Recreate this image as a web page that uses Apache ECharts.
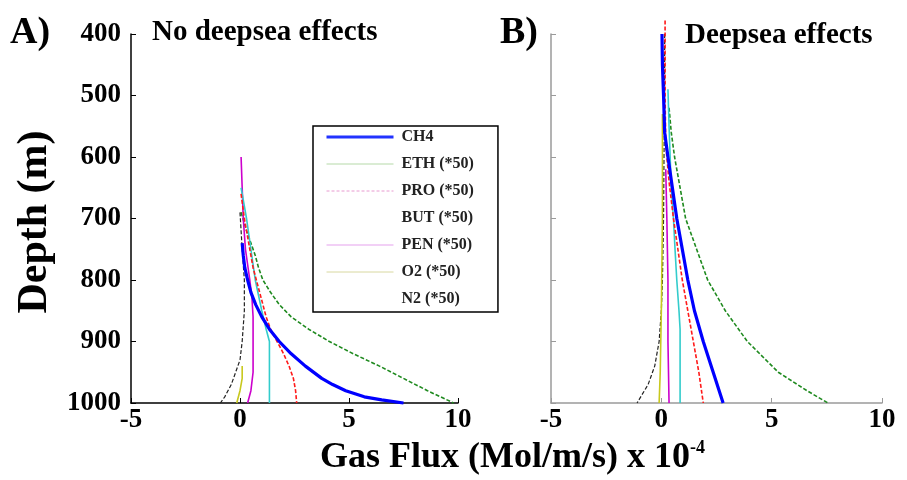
<!DOCTYPE html>
<html>
<head>
<meta charset="utf-8">
<script src="https://cdn.jsdelivr.net/npm/echarts@6/dist/echarts.min.js"></script>
<style>html,body{margin:0;padding:0;background:#fff}#c{width:907px;height:480px}</style>
</head>
<body>
<div id="c"></div>
<script>
// ---------- data ----------
const speciesNames = ['CH4', 'ETH (*50)', 'PRO (*50)', 'BUT (*50)', 'PEN (*50)', 'O2 (*50)', 'N2 (*50)'];
const xTickLabels = ['-5', '0', '5', '10'];
const depthTickLabels = ['400', '500', '600', '700', '800', '900', '1000'];

// Panel A: no deepsea effects (depth m, flux)
const aCH4Depth = [740, 760, 780, 800, 820, 840, 860, 880, 900, 920, 940, 960, 970, 980, 990, 995, 1000];
const aCH4Flux  = [0.1, 0.15, 0.22, 0.35, 0.5, 0.72, 1.0, 1.35, 1.8, 2.35, 3.0, 3.75, 4.25, 4.85, 5.7, 6.5, 7.5];
const aETHDepth = [690, 720, 740, 760, 780, 800, 820, 840, 860, 880, 900, 920, 940, 960, 980, 1000];
const aETHFlux  = [0.05, 0.3, 0.5, 0.7, 0.85, 1.05, 1.4, 1.8, 2.35, 3.15, 4.1, 5.2, 6.4, 7.5, 8.6, 9.8];
const aPRODepth = [660, 700, 740, 780, 820, 860, 880, 900, 920, 940, 960, 980, 1000];
const aPROFlux  = [0.05, 0.2, 0.4, 0.6, 0.9, 1.2, 1.4, 1.7, 2.0, 2.25, 2.45, 2.55, 2.6];
const aBUTDepth = [690, 750, 800, 850, 900, 930, 950, 970, 990, 1000];
const aBUTFlux  = [0.0, 0.1, 0.2, 0.2, 0.1, 0.0, -0.2, -0.4, -0.7, -0.9];
const aPENDepth = [600, 650, 700, 750, 800, 830, 860, 950, 980, 1000];
const aPENFlux  = [0.05, 0.1, 0.15, 0.25, 0.45, 0.55, 0.6, 0.6, 0.5, 0.35];
const aO2Depth  = [940, 960, 980, 1000];
const aO2Flux   = [0.1, 0.1, 0.0, -0.15];
const aN2Depth  = [650, 700, 750, 800, 850, 880, 900, 1000];
const aN2Flux   = [0.05, 0.3, 0.5, 0.7, 1.0, 1.2, 1.35, 1.35];

// Panel B: deepsea effects
const bCH4Depth = [400, 450, 500, 560, 600, 650, 700, 750, 800, 850, 900, 950, 1000];
const bCH4Flux  = [0.03, 0.05, 0.1, 0.15, 0.3, 0.5, 0.7, 0.95, 1.2, 1.5, 1.9, 2.35, 2.8];
const bETHDepth = [520, 560, 600, 650, 700, 750, 800, 850, 900, 950, 980, 1000];
const bETHFlux  = [0.35, 0.45, 0.6, 0.85, 1.1, 1.6, 2.1, 2.9, 3.9, 5.3, 6.6, 7.55];
const bPRODepth = [378, 500, 580, 640, 700, 750, 800, 850, 900, 950, 1000];
const bPROFlux  = [0.17, 0.17, 0.2, 0.35, 0.55, 0.75, 0.95, 1.2, 1.45, 1.7, 1.9];
const bBUTDepth = [400, 500, 600, 700, 800, 850, 900, 940, 970, 1000];
const bBUTFlux  = [0.15, 0.15, 0.12, 0.1, 0.05, 0.0, -0.1, -0.3, -0.6, -1.1];
const bPENDepth = [620, 700, 800, 900, 1000];
const bPENFlux  = [0.2, 0.25, 0.3, 0.3, 0.35];
const bO2Depth  = [530, 700, 850, 950, 1000];
const bO2Flux   = [0.05, 0.05, 0.0, -0.05, -0.1];
const bN2Depth  = [490, 550, 600, 650, 700, 750, 800, 850, 880, 1000];
const bN2Flux   = [0.3, 0.35, 0.4, 0.45, 0.55, 0.62, 0.7, 0.8, 0.85, 0.85];

// ---------- build ----------
const serif = 'Liberation Serif, Times New Roman, serif';
const styles = {
  'CH4':       { color: '#0000ff', width: 3.2, type: 'solid' },
  'ETH (*50)': { color: '#1f8a1f', width: 1.6, type: [4, 2] },
  'PRO (*50)': { color: '#ff1a1a', width: 1.6, type: [4, 2] },
  'BUT (*50)': { color: '#222222', width: 1.2, type: [4, 2] },
  'PEN (*50)': { color: '#cc00cc', width: 1.6, type: 'solid' },
  'O2 (*50)':  { color: '#c8c81e', width: 1.6, type: 'solid' },
  'N2 (*50)':  { color: '#33cccc', width: 1.6, type: 'solid' }
};
const panelA = [[aCH4Depth, aCH4Flux], [aETHDepth, aETHFlux], [aPRODepth, aPROFlux], [aBUTDepth, aBUTFlux],
                [aPENDepth, aPENFlux], [aO2Depth, aO2Flux], [aN2Depth, aN2Flux]];
const panelB = [[bCH4Depth, bCH4Flux], [bETHDepth, bETHFlux], [bPRODepth, bPROFlux], [bBUTDepth, bBUTFlux],
                [bPENDepth, bPENFlux], [bO2Depth, bO2Flux], [bN2Depth, bN2Flux]];

function pairs(d, f) { return d.map((v, i) => [f[i], v]); }
const drawOrder = [1, 3, 5, 4, 6, 2, 0];
const series = [];
[panelA, panelB].forEach((panel, p) => {
  drawOrder.forEach(i => {
    const name = speciesNames[i];
    series.push({
      type: 'line', name: name, xAxisIndex: p, yAxisIndex: p,
      data: pairs(panel[i][0], panel[i][1]),
      symbol: 'none', smooth: false, clip: false,
      lineStyle: Object.assign({}, styles[name]),
      itemStyle: { color: styles[name].color },
      z: i === 0 ? 5 : 3, animation: false
    });
  });
});

const legendLook = {
  'CH4':       { color: '#2233ff', width: 3, type: 'solid' },
  'ETH (*50)': { color: '#b5d9a8', width: 1, type: 'solid' },
  'PRO (*50)': { color: '#e89ad0', width: 1, type: [3, 2] },
  'BUT (*50)': { color: '#ffffff', width: 1, type: 'solid', opacity: 0 },
  'PEN (*50)': { color: '#e6a2ee', width: 1.2, type: 'solid' },
  'O2 (*50)':  { color: '#d8d8a0', width: 1, type: 'solid' },
  'N2 (*50)':  { color: '#ffffff', width: 1, type: 'solid', opacity: 0 }
};

function xAxisCfg(grid, lineColor) {
  return {
    type: 'value', gridIndex: grid, min: -5, max: 10, interval: 5,
    axisLine: { show: true, onZero: false, lineStyle: { color: lineColor, width: 1.5 } },
    axisTick: { show: true, inside: true, length: 5, lineStyle: { color: lineColor } },
    splitLine: { show: false },
    axisLabel: { color: '#000', fontFamily: serif, fontWeight: 'bold', fontSize: 27, margin: 4,
                 formatter: v => xTickLabels[(v + 5) / 5] }
  };
}
function yAxisCfg(grid, lineColor, showLabel) {
  return {
    type: 'value', gridIndex: grid, min: 400, max: 1000, interval: 100, inverse: true,
    axisLine: { show: true, onZero: false, lineStyle: { color: lineColor, width: 1.5 } },
    axisTick: { show: true, inside: true, length: 5, lineStyle: { color: lineColor } },
    splitLine: { show: false },
    axisLabel: { show: showLabel, color: '#000', fontFamily: serif, fontWeight: 'bold', fontSize: 27, margin: 10,
                 formatter: v => depthTickLabels[(v - 400) / 100] }
  };
}

const option = {
  backgroundColor: '#fff',
  animation: false,
  grid: [
    { left: 131, top: 34, width: 327, height: 369 },
    { left: 551, top: 34, width: 331, height: 369 }
  ],
  xAxis: [xAxisCfg(0, '#000'), xAxisCfg(1, '#9a9a9a')],
  yAxis: [yAxisCfg(0, '#000', true), yAxisCfg(1, '#9a9a9a', false)],
  legend: {
    orient: 'vertical', left: 313, top: 126,
    padding: [3, 24, 5, 12], itemGap: 11, itemWidth: 67, itemHeight: 14,
    borderColor: '#000', borderWidth: 1.5, backgroundColor: '#fff',
    selectedMode: false,
    textStyle: { fontFamily: serif, fontWeight: 'bold', fontSize: 16, color: '#222', lineHeight: 16, padding: [0, 0, 0, 3] },
    data: speciesNames.map(n => ({ name: n, lineStyle: legendLook[n], itemStyle: { opacity: 0 } }))
  },
  graphic: [
    { type: 'text', left: 10, top: 14, style: { text: 'A)', font: 'bold 38px ' + serif, fill: '#000' } },
    { type: 'text', left: 152, top: 18, style: { text: 'No deepsea effects', font: 'bold 29px ' + serif, fill: '#000' } },
    { type: 'text', left: 500, top: 14, style: { text: 'B)', font: 'bold 38px ' + serif, fill: '#000' } },
    { type: 'text', left: 685, top: 21, style: { text: 'Deepsea effects', font: 'bold 29px ' + serif, fill: '#000' } },
    { type: 'text', x: 35, y: 222, rotation: Math.PI / 2,
      style: { text: 'Depth (m)', font: 'bold 42px ' + serif, fill: '#000', align: 'center', verticalAlign: 'middle' } },
    { type: 'text', left: 320, top: 440, style: { text: 'Gas Flux (Mol/m/s) x 10', font: 'bold 36px ' + serif, fill: '#000' } },
    { type: 'text', left: 690, top: 439, style: { text: '-4', font: 'bold 18px ' + serif, fill: '#000' } }
  ],
  series: series
};

const chart = echarts.init(document.getElementById('c'), null, { renderer: 'canvas' });
chart.setOption(option);
</script>
</body>
</html>
